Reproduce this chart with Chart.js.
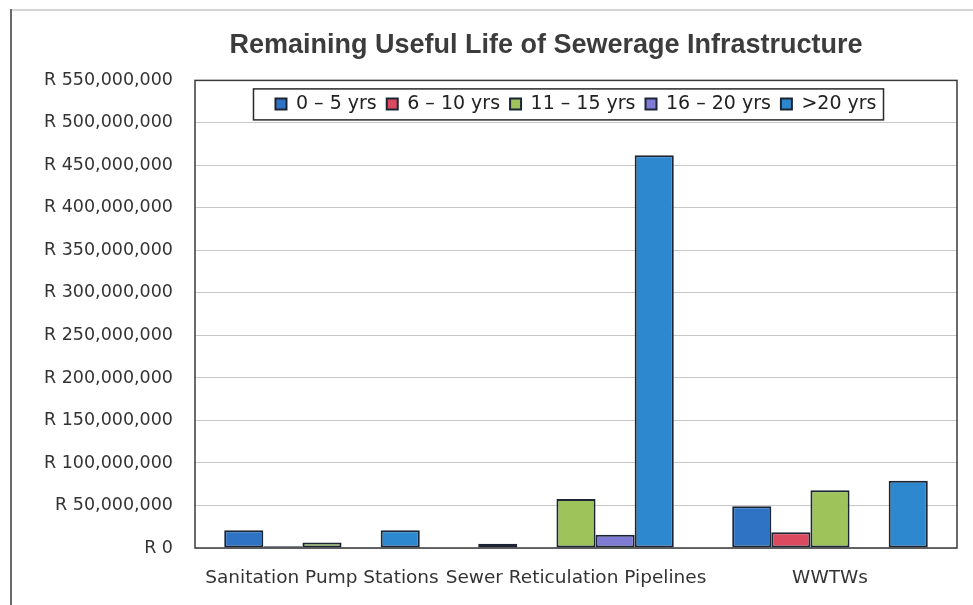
<!DOCTYPE html>
<html><head><meta charset="utf-8">
<script src="https://cdn.jsdelivr.net/npm/chart.js@4.4.1/dist/chart.umd.min.js"></script>
<style>html,body{margin:0;padding:0;background:#fff;}#wrap{width:973px;height:605px;}</style>
</head><body><div id="wrap"><canvas id="c" width="973" height="605"></canvas></div>
<script>
const chartTitle = 'Remaining Useful Life of Sewerage Infrastructure';
const categories = ['Sanitation Pump Stations', 'Sewer Reticulation Pipelines', 'WWTWs'];
const seriesNames = ['0 \u2013 5 yrs', '6 \u2013 10 yrs', '11 \u2013 15 yrs', '16 \u2013 20 yrs', '>20 yrs'];
const yrs0to5   = [21000000,   5000000, 49000000];
const yrs6to10  = [ 2000000,         0, 18500000];
const yrs11to15 = [ 6500000,  57500000, 68000000];
const yrs16to20 = [ 1000000,  15500000,  1000000];
const yrsOver20 = [21000000, 462000000, 79000000];
const yTickLabels = ['R 0', 'R 50,000,000', 'R 100,000,000', 'R 150,000,000', 'R 200,000,000', 'R 250,000,000',
  'R 300,000,000', 'R 350,000,000', 'R 400,000,000', 'R 450,000,000', 'R 500,000,000', 'R 550,000,000'];
const seriesValues = [yrs0to5, yrs6to10, yrs11to15, yrs16to20, yrsOver20];
const seriesColors = ['#2f73c5', '#dc4a60', '#9dc35a', '#7f7bd4', '#2d88cf'];

const decorPlugin = {
  id: 'decor',
  afterLayout(chart) {
    const lg = chart.legend, a = chart.chartArea;
    if (lg) {
      lg.left = a.left; lg.right = a.right; lg.width = a.right - a.left;
      lg.top = a.top + 4; lg.height = 40; lg.bottom = lg.top + 40;
    }
    const t = chart.titleBlock;
    if (t) { t.left = 135; t.right = a.right; t.width = t.right - t.left; }
  },
  beforeDraw(chart) {
    const ctx = chart.ctx;
    ctx.save();
    ctx.lineWidth = 2;
    ctx.strokeStyle = '#d4d4d4';
    ctx.beginPath(); ctx.moveTo(10, 10); ctx.lineTo(chart.width, 10); ctx.stroke();
    ctx.strokeStyle = '#6a6a6a';
    ctx.beginPath(); ctx.moveTo(11, 9); ctx.lineTo(11, chart.height); ctx.stroke();
    ctx.restore();
  },
  beforeDatasetsDraw(chart) {
    const ctx = chart.ctx, a = chart.chartArea;
    ctx.save();
    ctx.strokeStyle = '#3a3a3a'; ctx.lineWidth = 1.5;
    ctx.strokeRect(a.left, a.top, a.right - a.left, a.bottom - a.top);
    ctx.restore();
  },
  afterDraw(chart) {
    const lg = chart.legend; if (!lg || !lg.legendHitBoxes) return;
    const hb = lg.legendHitBoxes, ctx = chart.ctx;
    const last = hb[hb.length - 1];
    const l = hb[0].left - 22, r = last.left + last.width + 7;
    const cy = hb[0].top + hb[0].height / 2;
    ctx.save();
    ctx.strokeStyle = '#2a2a2a'; ctx.lineWidth = 1.5;
    ctx.strokeRect(l, cy - 15, r - l, 31);
    ctx.restore();
  }
};

new Chart(document.getElementById('c'), {
  type: 'bar',
  data: {
    labels: categories,
    datasets: seriesNames.map((n, i) => ({
      label: n,
      data: seriesValues[i],
      backgroundColor: seriesColors[i],
      borderColor: '#1c2534',
      borderWidth: 2,
      borderSkipped: false,
      categoryPercentage: 0.77,
      barPercentage: 1.0
    }))
  },
  options: {
    responsive: false,
    animation: false,
    devicePixelRatio: 1,
    layout: { padding: { top: 0, left: 0, right: 16, bottom: 17 } },
    plugins: {
      title: {
        display: true, text: chartTitle, color: '#3c3c3c',
        font: { family: 'Liberation Sans', size: 27, weight: 'bold' },
        padding: { top: 29, bottom: 18 }
      },
      legend: {
        display: true, position: 'top', maxHeight: 1,
        labels: {
          color: '#222', boxWidth: 11, boxHeight: 11, padding: 10,
          font: { family: 'DejaVu Sans', size: 19 }
        }
      },
      tooltip: { enabled: false }
    },
    scales: {
      x: {
        grid: { display: false, drawTicks: false },
        border: { display: false },
        ticks: { padding: 19, color: '#333', maxRotation: 0, autoSkip: false,
          font: { family: 'DejaVu Sans', size: 18.5 } },
        afterFit(s) { s.height = 40; }
      },
      y: {
        min: 0, max: 550000000,
        grid: { color: '#c8c8c8', lineWidth: 1, drawTicks: false },
        border: { display: false },
        ticks: { stepSize: 50000000, padding: 22, color: '#333',
          font: { family: 'DejaVu Sans', size: 17.5 },
          callback: (v, i) => yTickLabels[i] },
        afterFit(s) { s.width = 195; }
      }
    }
  },
  plugins: [decorPlugin]
});
</script></body></html>
